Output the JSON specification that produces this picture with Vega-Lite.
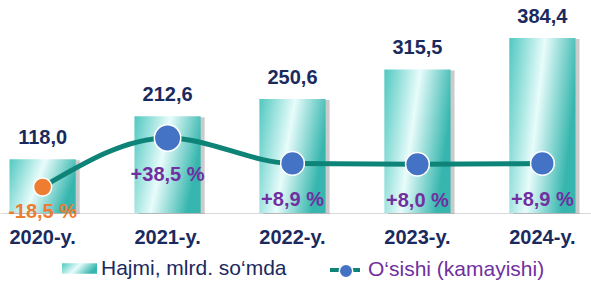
{
  "$schema": "https://vega.github.io/schema/vega-lite/v6.json",
  "width": 591,
  "height": 213,
  "autosize": {"type": "none"},
  "padding": {"left": 0, "top": 0, "right": 0, "bottom": 74},
  "background": "white",
  "config": {
    "view": {"stroke": null},
    "font": "Liberation Sans",
    "axis": {"grid": false}
  },
  "data": {
    "values": [
      {"year": "2020-y.", "volume": 118.0, "growth": -18.5},
      {"year": "2021-y.", "volume": 212.6, "growth": 38.5},
      {"year": "2022-y.", "volume": 250.6, "growth": 8.9},
      {"year": "2023-y.", "volume": 315.5, "growth": 8.0},
      {"year": "2024-y.", "volume": 384.4, "growth": 8.9}
    ]
  },
  "transform": [
    {"calculate": "replace(format(datum.volume, '.1f'), '.', ',')", "as": "volLabel"},
    {"calculate": "replace(replace(format(datum.growth, '+.1f'), '.', ','), '\u2212', '-') + ' %'", "as": "growthLabel"}
  ],
  "encoding": {
    "x": {
      "field": "year",
      "type": "nominal",
      "sort": null,
      "scale": {"paddingInner": 0.47, "paddingOuter": 0.1, "align": 0.38},
      "axis": {
        "title": null,
        "labelAngle": 0,
        "ticks": false,
        "domainColor": "#d9d9d9",
        "domainWidth": 1,
        "labelFontSize": 20,
        "labelFontWeight": "bold",
        "labelColor": "#1a2a5e",
        "labelPadding": 14
      }
    }
  },
  "layer": [
    {
      "encoding": {
        "y": {"field": "volume", "type": "quantitative", "scale": {"domain": [0, 468], "nice": false, "zero": true}, "axis": null}
      },
      "layer": [
        {"mark": {"type": "bar", "fill": "#8c8c8c", "opacity": 0.45, "xOffset": 4, "yOffset": 1}},
        {
          "mark": {"type": "bar", "fill": {"gradient": "linear", "x1": 0, "y1": 0, "x2": 1, "y2": 0.3, "stops": [{"offset": 0, "color": "#50c8c0"}, {"offset": 0.5, "color": "#e8fcfb"}, {"offset": 1, "color": "#36b6ae"}]}},
          "encoding": {
            "opacity": {
              "datum": "Hajmi, mlrd. so‘mda",
              "scale": {"range": [1]},
              "legend": {
                "orient": "none", "legendX": 62, "legendY": 251, "title": null,
                "symbolType": "M-1,-0.3H1V0.3H-1Z", "symbolSize": 1225, "symbolStrokeWidth": 0,
                "symbolFillColor": "#5fcfc8", "symbolOpacity": 1,
                "labelFontSize": 21, "labelColor": "#1a2a5e", "labelOffset": 4, "labelLimit": 400
              }
            }
          }
        },
        {
          "mark": {"type": "text", "dy": -21, "fontSize": 20, "fontWeight": "bold", "fill": "#1a2a5e"},
          "encoding": {"text": {"field": "volLabel"}}
        }
      ]
    },
    {
      "encoding": {
        "y": {"field": "growth", "type": "quantitative", "scale": {"domain": [-48.75, 199.04], "nice": false, "zero": false}, "axis": null}
      },
      "layer": [
        {
          "mark": {"type": "line", "interpolate": "monotone", "strokeWidth": 5},
          "encoding": {
            "stroke": {
              "datum": "O‘sishi (kamayishi)",
              "scale": {"range": ["#0e8478"]},
              "legend": {
                "orient": "none", "legendX": 328, "legendY": 253, "title": null,
                "symbolType": "stroke", "symbolSize": 900, "symbolStrokeWidth": 4,
                "labelFontSize": 21, "labelColor": "#7030a0", "labelOffset": 6, "labelLimit": 400
              }
            }
          }
        },
        {
          "mark": {"type": "point", "filled": true, "stroke": "white", "strokeWidth": 1.5, "opacity": 1},
          "encoding": {
            "fill": {
              "condition": {"test": "datum.growth < 0", "value": "#ed7d31"},
              "datum": "O‘sishi (kamayishi) ",
              "scale": {"range": ["#4472c4"]},
              "legend": {
                "orient": "none", "legendX": 336, "legendY": 261, "title": null,
                "symbolType": "circle", "symbolSize": 180, "symbolStrokeColor": "white", "symbolStrokeWidth": 1.5,
                "labelFontSize": 20, "labelColor": "transparent", "labelOffset": 6, "labelExpr": "''"
              }
            },
            "size": {
              "condition": [
                {"test": "datum.growth < 0", "value": 330},
                {"test": "datum.growth > 30", "value": 700}
              ],
              "value": 560
            }
          }
        },
        {
          "transform": [{"filter": "datum.growth < 0"}],
          "mark": {"type": "text", "dy": 25, "fontSize": 20, "fontWeight": "bold", "fill": "#ed7d31"},
          "encoding": {"text": {"field": "growthLabel"}}
        },
        {
          "transform": [{"filter": "datum.growth >= 0"}],
          "mark": {"type": "text", "dy": 37, "fontSize": 20, "fontWeight": "bold", "fill": "#7030a0"},
          "encoding": {"text": {"field": "growthLabel"}}
        }
      ]
    }
  ],
  "resolve": {"scale": {"y": "independent", "opacity": "independent"}}
}
